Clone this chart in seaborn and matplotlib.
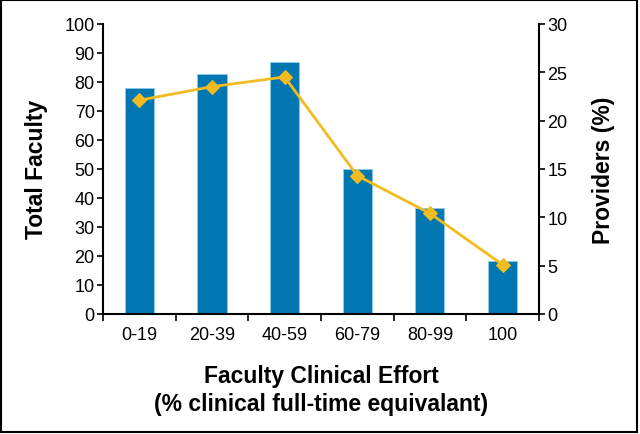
import matplotlib
matplotlib.use('Agg')
import matplotlib.pyplot as plt
import pandas as pd
import seaborn as sns
from matplotlib.patches import Rectangle
from matplotlib.ticker import FixedLocator

# data
effort = ['0-19', '20-39', '40-59', '60-79', '80-99', '100']
total_faculty = [78, 82.7, 86.7, 50, 36.6, 18.1]
providers_pct = [22.1, 23.5, 24.5, 14.3, 10.4, 5.1]

BAR_BLUE = '#0277b1'
LINE_GOLD = '#f2bb1f'

sns.set_style('ticks')
plt.rcParams['font.family'] = ['Liberation Sans', 'DejaVu Sans']
plt.rcParams['text.color'] = 'black'
plt.rcParams['axes.labelcolor'] = 'black'
plt.rcParams['xtick.color'] = 'black'
plt.rcParams['ytick.color'] = 'black'

df = pd.DataFrame({'effort': effort, 'faculty': total_faculty, 'providers': providers_pct})

fig = plt.figure(figsize=(6.4, 4.35), dpi=100)
ax = fig.add_axes([0.161, 0.276, 0.681, 0.667])

sns.barplot(data=df, x='effort', y='faculty', color=BAR_BLUE, width=0.4,
            saturation=1, edgecolor='#8fcbe8', linewidth=0.6, ax=ax)

ax2 = ax.twinx()
sns.lineplot(data=df, x='effort', y='providers', sort=False, color=LINE_GOLD,
             linewidth=2, marker='D', markersize=7, markeredgecolor=LINE_GOLD, ax=ax2)

ax.set_xlim(-0.5, len(effort) - 0.5)
ax.set_ylim(0, 100)
ax.set_yticks(range(0, 101, 10))
ax2.set_ylim(0, 30)
ax2.set_yticks(range(0, 31, 5))

# x ticks sit between categories, labels centred under bars
ax.xaxis.set_major_locator(FixedLocator([i - 0.5 for i in range(len(effort) + 1)]))
ax.xaxis.set_major_formatter(plt.NullFormatter())
ax.set_xticks(range(len(effort)), minor=True)
ax.set_xticklabels(effort, minor=True)
ax.tick_params(axis='x', which='minor', length=0, pad=9, labelsize=13)
ax.tick_params(axis='x', which='major', length=5, width=1.2, direction='out')

for a in (ax, ax2):
    a.tick_params(axis='y', length=4, width=1.2, labelsize=13, pad=2)
    for s in a.spines.values():
        s.set_linewidth(1.5)
        s.set_color('black')

ax.spines['top'].set_visible(False)
ax.spines['right'].set_visible(False)
ax2.spines['top'].set_visible(False)
ax2.spines['left'].set_visible(False)
ax2.spines['bottom'].set_visible(False)

ax.set_xlabel('Faculty Clinical Effort\n(% clinical full-time equivalant)',
              fontsize=16.5, fontweight='bold', labelpad=15, linespacing=1.25)
ax.set_ylabel('Total Faculty', fontsize=16.5, fontweight='bold', labelpad=12)
ax2.set_ylabel('Providers (%)', fontsize=16.5, fontweight='bold', labelpad=18)

fig.patches.append(Rectangle((0.002, 0.004), 0.994, 0.993, transform=fig.transFigure,
                             fill=False, edgecolor='black', linewidth=1.5))

fig.savefig('out.png', dpi=100)
